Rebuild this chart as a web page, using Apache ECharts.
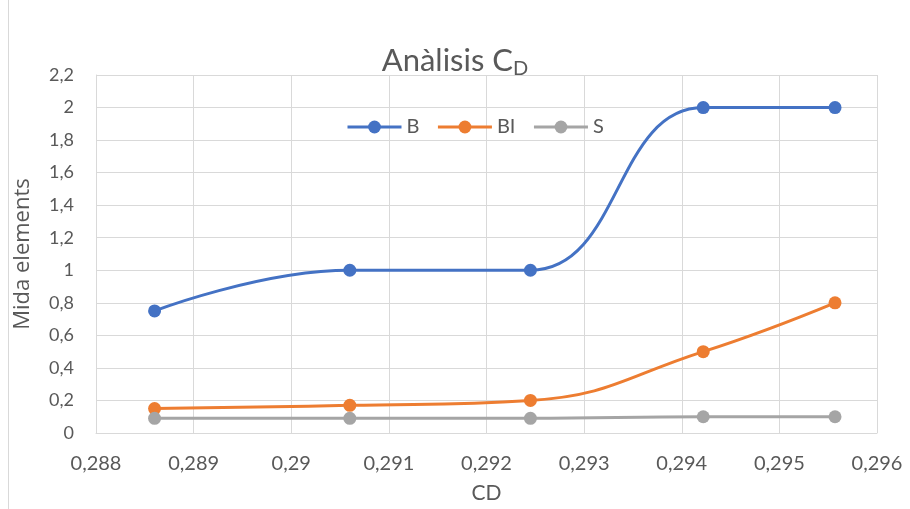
<!DOCTYPE html>
<html><head><meta charset="utf-8">
<script src="https://cdn.jsdelivr.net/npm/echarts@6/dist/echarts.min.js"></script>
<style>html,body{margin:0;padding:0;background:#fff}#c{width:910px;height:509px}</style>
</head><body><div id="c"></div>
<script>
const cdValues = [0.28860, 0.29060, 0.29245, 0.29422, 0.29557];
const seriesB  = [0.75, 1.0, 1.0, 2.0, 2.0];
const seriesBI = [0.15, 0.17, 0.20, 0.50, 0.80];
const seriesS  = [0.09, 0.09, 0.09, 0.10, 0.10];
const seriesNames = ['B', 'BI', 'S'];
const colors = ['#4472C4', '#ED7D31', '#A5A5A5'];

const pair = (ys) => cdValues.map((x, i) => [x, ys[i]]);
const fmt = (d) => (v) => String(parseFloat(v.toFixed(d))).replace('.', ',');
const font = 'Lato, "Open Sans", sans-serif';

const chart = echarts.init(document.getElementById('c'));
chart.setOption({
  animation: false,
  color: colors,
  textStyle: { fontFamily: font },
  graphic: [{ type: 'line', shape: { x1: 8.5, y1: 0, x2: 8.5, y2: 509 }, style: { stroke: '#d9d9d9', lineWidth: 1 } }],
  title: {
    text: 'Anàlisis C{sub|D}',
    left: 'center', top: 38,
    textStyle: {
      fontFamily: font, fontSize: 31, fontWeight: 'normal', color: '#595959',
      rich: { sub: { fontFamily: font, fontSize: 20, color: '#595959', padding: [16, 0, 0, 0] } }
    }
  },
  legend: {
    top: 112, left: 341,
    itemWidth: 54, itemHeight: 16, itemGap: 17,
    lineStyle: { width: 3 },
    textStyle: { fontFamily: font, fontSize: 20, color: '#595959' },
    data: seriesNames
  },
  grid: { left: 96, right: 33, top: 75, bottom: 75 },
  xAxis: {
    type: 'value', min: 0.288, max: 0.296, interval: 0.001,
    name: 'CD', nameLocation: 'middle', nameGap: 50,
    nameTextStyle: { fontFamily: font, fontSize: 21, color: '#595959' },
    axisLine: { lineStyle: { color: '#d9d9d9' } },
    axisTick: { show: false },
    axisLabel: { formatter: fmt(3), fontSize: 20, color: '#595959', margin: 21 },
    splitLine: { show: true, lineStyle: { color: '#d9d9d9' } }
  },
  yAxis: {
    type: 'value', min: 0, max: 2.2, interval: 0.2,
    name: 'Mida elements', nameLocation: 'middle', nameGap: 62,
    nameTextStyle: { fontFamily: '"Open Sans", Lato, sans-serif', fontSize: 22, color: '#595959' },
    axisLine: { show: true, lineStyle: { color: '#d9d9d9' } },
    axisTick: { show: false },
    axisLabel: { formatter: fmt(1), fontSize: 18, color: '#595959', margin: 22 },
    splitLine: { show: true, lineStyle: { color: '#d9d9d9' } }
  },
  series: [seriesB, seriesBI, seriesS].map((d, i) => ({
    name: seriesNames[i], type: 'line', data: pair(d), smooth: 0.45,
    symbol: 'circle', symbolSize: 13,
    lineStyle: { width: 3, color: colors[i] },
    itemStyle: { color: colors[i] }
  }))
});
</script></body></html>
